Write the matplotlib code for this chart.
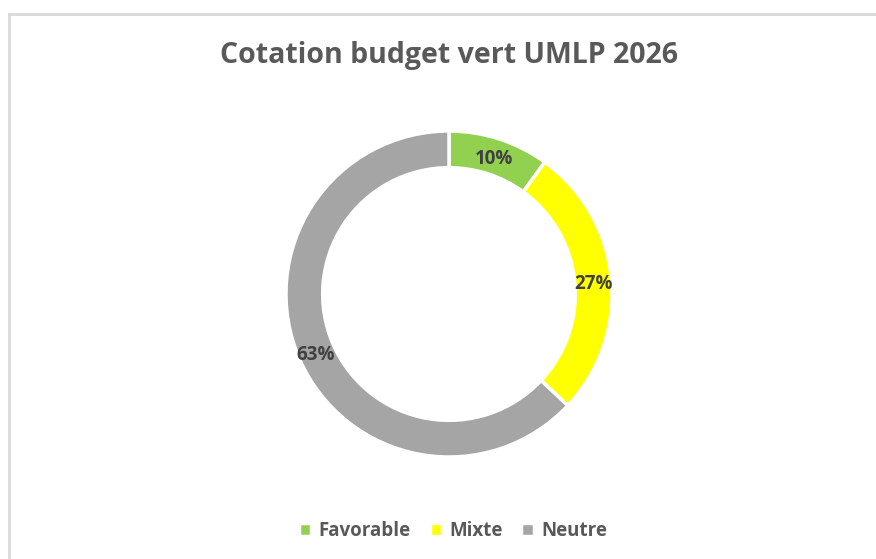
import matplotlib.pyplot as plt
import numpy as np

# données du graphique
categories = ["Favorable", "Mixte", "Neutre"]
parts = [10, 27, 63]
couleurs = ["#92D050", "#FFFF00", "#A5A5A5"]

plt.rcParams['font.family'] = ['Open Sans', 'DejaVu Sans']

fig = plt.figure(figsize=(8.76, 5.59), dpi=100)

# bordure grise du cadre (en haut et a gauche)
fig.add_artist(plt.Line2D([9 / 876, 1], [1 - 14 / 559, 1 - 14 / 559], color="#D9D9D9", lw=2))
fig.add_artist(plt.Line2D([9 / 876, 9 / 876], [0, 1 - 14 / 559], color="#D9D9D9", lw=2))

fig.text(449 / 876, 1 - 55 / 559, "Cotation budget vert UMLP 2026", ha="center", va="center",
         fontsize=20.5, fontweight="bold", color="#595959")

# axe du donut : centre (449, 294), rayon ~163 px
r = 163
ax = fig.add_axes([(449 - r) / 876, 1 - (294 + r) / 559, 2 * r / 876, 2 * r / 559])
wedges, _ = ax.pie(parts, colors=couleurs, startangle=90, counterclock=False,
                   radius=1, wedgeprops=dict(width=0.225, edgecolor="white", linewidth=2.5))
ax.set_xlim(-1, 1)
ax.set_ylim(-1, 1)
ax.set_aspect("equal")

# etiquettes au milieu de l'anneau
cumul = np.cumsum([0] + parts[:-1])
for p, c in zip(parts, cumul):
    ang = np.deg2rad(90 - (c + p / 2) / 100 * 360)
    ax.text(0.89 * np.cos(ang), 0.89 * np.sin(ang) - 0.02, f"{p}%", ha="center", va="center",
            fontsize=13.5, fontweight="bold", color="#404040")

leg = fig.legend(wedges, categories, loc="center", bbox_to_anchor=(453 / 876, 1 - 531 / 559),
                 ncol=3, frameon=False, handlelength=0.65, handleheight=0.65, handletextpad=0.4,
                 columnspacing=1.0, prop=dict(size=13.5, weight="bold"))
for t in leg.get_texts():
    t.set_color("#595959")

plt.savefig("out.png", dpi=100)
